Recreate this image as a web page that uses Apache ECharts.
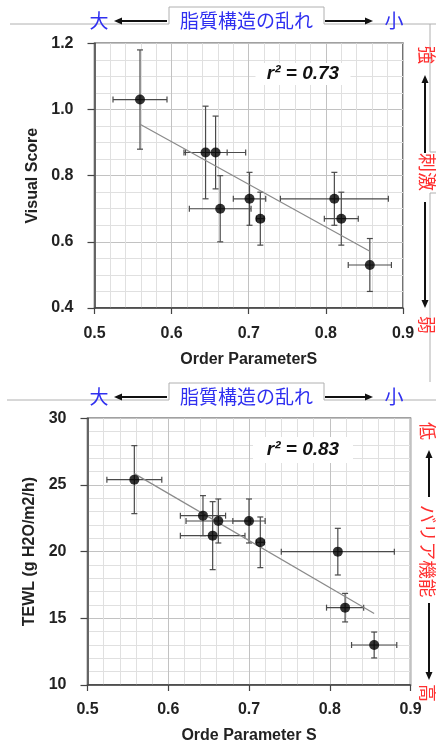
<!DOCTYPE html>
<html>
<head>
<meta charset="utf-8">
<script src="https://cdn.jsdelivr.net/npm/echarts@6/dist/echarts.min.js"></script>
<style>
  html, body { margin: 0; padding: 0; background: #fff; }
  #chart { width: 436px; height: 744px; }
</style>
</head>
<body>
<div id="chart"></div>
<script>
// Upper panel: visual irritation score against the lipid order parameter S
const visualS        = [0.559, 0.644, 0.657, 0.663, 0.701, 0.715, 0.811, 0.820, 0.857];
const visualScore    = [1.03, 0.87, 0.87, 0.70, 0.73, 0.67, 0.73, 0.67, 0.53];
const visualSErr     = [0.035, 0.028, 0.039, 0.040, 0.021, 0.005, 0.070, 0.022, 0.028];
const visualScoreErr = [0.15, 0.14, 0.11, 0.10, 0.08, 0.08, 0.08, 0.08, 0.08];

// Lower panel: transepidermal water loss against the order parameter S
const tewlS    = [0.558, 0.643, 0.662, 0.655, 0.700, 0.714, 0.810, 0.819, 0.855];
const tewl     = [25.4, 22.7, 22.3, 21.2, 22.3, 20.7, 20.0, 15.8, 13.0];
const tewlSErr = [0.034, 0.028, 0.040, 0.040, 0.020, 0.005, 0.070, 0.023, 0.028];
const tewlErr  = [2.55, 1.50, 1.65, 2.55, 1.65, 1.90, 1.75, 1.07, 0.97];

// Axis ticks
const sTicks      = [0.5, 0.6, 0.7, 0.8, 0.9];
const visualTicks = [0.4, 0.6, 0.8, 1.0, 1.2];
const tewlTicks   = [10, 15, 20, 25, 30];

// Correlation labels
const r2Visual = '0.73';
const r2Tewl   = '0.83';

const FONT = '"Liberation Sans", Arial, sans-serif';
const JP = '"Noto Sans CJK JP", sans-serif';
const BLUE = '#3030f0';
const RED = '#ff3030';

function range(ticks) {
  return {
    min: ticks[0],
    max: ticks[ticks.length - 1],
    interval: +(ticks[1] - ticks[0]).toFixed(6)
  };
}

// least-squares regression line spanning the measured S range
function fitLine(xs, ys) {
  const n = xs.length;
  const mx = xs.reduce((a, b) => a + b, 0) / n;
  const my = ys.reduce((a, b) => a + b, 0) / n;
  let sxy = 0, sxx = 0;
  for (let i = 0; i < n; i++) {
    sxy += (xs[i] - mx) * (ys[i] - my);
    sxx += (xs[i] - mx) * (xs[i] - mx);
  }
  const b = sxy / sxx, a = my - b * mx;
  const x0 = Math.min(...xs), x1 = Math.max(...xs);
  return [[x0, a + b * x0], [x1, a + b * x1]];
}

function errorBars(params, api) {
  const x = api.value(0), y = api.value(1), ex = api.value(2), ey = api.value(3);
  const L = api.coord([x - ex, y]), R = api.coord([x + ex, y]);
  const T = api.coord([x, y + ey]), B = api.coord([x, y - ey]);
  const cap = 3;
  const seg = (x1, y1, x2, y2) => ({
    type: 'line', shape: { x1, y1, x2, y2 },
    style: { stroke: '#4a4a4a', lineWidth: 1.2 }
  });
  return {
    type: 'group',
    children: [
      seg(L[0], L[1], R[0], R[1]),
      seg(L[0], L[1] - cap, L[0], L[1] + cap),
      seg(R[0], R[1] - cap, R[0], R[1] + cap),
      seg(T[0], T[1], B[0], B[1]),
      seg(T[0] - cap, T[1], T[0] + cap, T[1]),
      seg(B[0] - cap, B[1], B[0] + cap, B[1])
    ]
  };
}

function xAxisCfg(gridIndex, name, labelMargin, nameGap) {
  return Object.assign({
    type: 'value', gridIndex,
    name, nameLocation: 'middle', nameGap,
    nameTextStyle: { fontFamily: FONT, fontWeight: 'bold', fontSize: 16, color: '#222' },
    axisLine: { show: true, onZero: false, lineStyle: { color: '#444', width: 1.5 } },
    axisTick: { show: true, length: 6, lineStyle: { color: '#444', width: 1.2 } },
    axisLabel: {
      margin: labelMargin, fontFamily: FONT, fontWeight: 'bold', fontSize: 16, color: '#222',
      formatter: v => v.toFixed(1)
    },
    splitLine: { show: true, lineStyle: { color: '#c2c2c2', width: 1 } },
    minorTick: { show: false, splitNumber: 5 },
    minorSplitLine: { show: true, lineStyle: { color: '#e0e0e0', width: 1 } }
  }, range(sTicks));
}

function yAxisCfg(gridIndex, ticks, name, minorSplit, labelMargin, nameGap, digits) {
  return Object.assign({
    type: 'value', gridIndex,
    name, nameLocation: 'middle', nameGap,
    nameTextStyle: { fontFamily: FONT, fontWeight: 'bold', fontSize: 16, color: '#222' },
    axisLine: { show: true, onZero: false, lineStyle: { color: '#444', width: 1.5 } },
    axisTick: { show: true, length: 7, lineStyle: { color: '#444', width: 1.2 } },
    axisLabel: {
      margin: labelMargin, fontFamily: FONT, fontWeight: 'bold', fontSize: 16, color: '#222',
      formatter: v => v.toFixed(digits)
    },
    splitLine: { show: true, lineStyle: { color: '#c2c2c2', width: 1 } },
    minorTick: { show: false, splitNumber: minorSplit },
    minorSplitLine: { show: true, lineStyle: { color: '#e0e0e0', width: 1 } }
  }, range(ticks));
}

function zip4(a, b, c, d) { return a.map((v, i) => [v, b[i], c[i], d[i]]); }
function zip2(a, b) { return a.map((v, i) => [v, b[i]]); }

function panelSeries(idx, xs, ys, exs, eys) {
  return [
    {
      type: 'custom', xAxisIndex: idx, yAxisIndex: idx,
      renderItem: errorBars, data: zip4(xs, ys, exs, eys),
      encode: { x: 0, y: 1 }, silent: true, z: 2
    },
    {
      type: 'line', xAxisIndex: idx, yAxisIndex: idx,
      data: fitLine(xs, ys), symbol: 'none', silent: true,
      lineStyle: { color: '#8a8a8a', width: 1.2 }, z: 3
    },
    {
      type: 'scatter', xAxisIndex: idx, yAxisIndex: idx,
      data: zip2(xs, ys), symbolSize: 10,
      itemStyle: { color: '#000' }, z: 4
    }
  ];
}

// ---- decorations: frame lines, arrows, side captions ----
const DZ = 100;
function ln(x1, y1, x2, y2, color, w) {
  return { type: 'line', z: DZ, shape: { x1, y1, x2, y2 }, style: { stroke: color || '#b0b0b0', lineWidth: w || 1 } };
}
function arrow(x1, y1, x2, y2) {
  const dx = x2 - x1, dy = y2 - y1, len = Math.hypot(dx, dy);
  const ux = dx / len, uy = dy / len, hl = 8, hw = 3.5;
  const bx = x2 - ux * hl, by = y2 - uy * hl;
  return [
    { type: 'line', z: DZ, shape: { x1, y1, x2: bx, y2: by }, style: { stroke: '#111', lineWidth: 2 } },
    { type: 'polygon', z: DZ, shape: { points: [[x2, y2], [bx - uy * hw, by + ux * hw], [bx + uy * hw, by - ux * hw]] }, style: { fill: '#111' } }
  ];
}
function txt(text, x, y, font, fill, rotation) {
  return {
    type: 'text', z: DZ + 1, x, y, rotation: rotation || 0,
    style: {
      text, font, fill,
      align: 'center', verticalAlign: 'middle',
      textAlign: 'center', textVerticalAlign: 'middle'
    }
  };
}
function header(lineY, boxTop, textY, frameLeft) {
  return [
    ln(frameLeft, lineY, 169, lineY),
    ln(324, lineY, 436, lineY),
    { type: 'rect', z: DZ, shape: { x: 169, y: boxTop, width: 155, height: lineY - boxTop }, style: { fill: '#fff' } },
    { type: 'polyline', z: DZ, shape: { points: [[169, lineY], [169, boxTop], [324, boxTop], [324, lineY]] }, style: { stroke: '#b0b0b0', lineWidth: 1, fill: null } },
    ...arrow(167, textY, 114, textY),
    ...arrow(325, textY, 373, textY),
    txt('大', 99, textY, '19px ' + JP, BLUE),
    txt('脂質構造の乱れ', 246.5, textY, '19px ' + JP, BLUE),
    txt('小', 394, textY, '19px ' + JP, BLUE)
  ];
}
function r2Box(label, cx, cy, w, h) {
  return [
    { type: 'rect', z: DZ, shape: { x: cx - w / 2, y: cy - h / 2, width: w, height: h }, style: { fill: '#fff' } },
    txt('r² = ' + label, cx, cy, 'italic bold 19px ' + FONT, '#111')
  ];
}
const ROT = -Math.PI / 2;

const graphic = [
  // upper panel frame and captions
  ...header(24, 7, 21, 10),
  ln(430, 24, 430, 152), ln(430, 152, 436, 152),
  ln(430, 193, 436, 193), ln(430, 193, 430, 382),
  txt('強', 427, 55, '18px ' + JP, RED, ROT),
  ...arrow(425, 153, 425, 75),
  txt('刺激', 427, 172, '19px ' + JP, RED, ROT),
  ...arrow(425, 202, 425, 308),
  txt('弱', 427, 325, '18px ' + JP, RED, ROT),
  ...r2Box(r2Visual, 303, 74, 95, 22),

  // lower panel frame and captions
  ...header(400, 383, 397, 7),
  txt('低', 428, 431, '18px ' + JP, RED, ROT),
  ...arrow(429, 497, 429, 450),
  txt('バリア機能', 428, 551, '18.5px ' + JP, RED, ROT),
  ...arrow(429, 603, 429, 680),
  txt('高', 428, 693, '18px ' + JP, RED, ROT),
  ...r2Box(r2Tewl, 303, 450, 100, 26)
];

const chart = echarts.init(document.getElementById('chart'), null, { renderer: 'canvas' });
chart.setOption({
  animation: false,
  backgroundColor: '#fff',
  grid: [
    { left: 94.5, top: 43.3, width: 308.5, height: 264.7, show: true, borderColor: '#444', borderWidth: 1.5, containLabel: false, outerBoundsMode: 'none' },
    { left: 87.5, top: 418.3, width: 323, height: 266.7, show: true, borderColor: '#444', borderWidth: 1.5, containLabel: false, outerBoundsMode: 'none' }
  ],
  xAxis: [
    xAxisCfg(0, 'Order ParameterS', 18, 44),
    xAxisCfg(1, 'Orde Parameter S', 17, 43)
  ],
  yAxis: [
    yAxisCfg(0, visualTicks, 'Visual Score', 4, 21, 46, 1),
    yAxisCfg(1, tewlTicks, 'TEWL (g H2O/m2/h)', 5, 21, 41, 0)
  ],
  series: [
    ...panelSeries(0, visualS, visualScore, visualSErr, visualScoreErr),
    ...panelSeries(1, tewlS, tewl, tewlSErr, tewlErr)
  ],
  graphic
});
</script>
</body>
</html>
